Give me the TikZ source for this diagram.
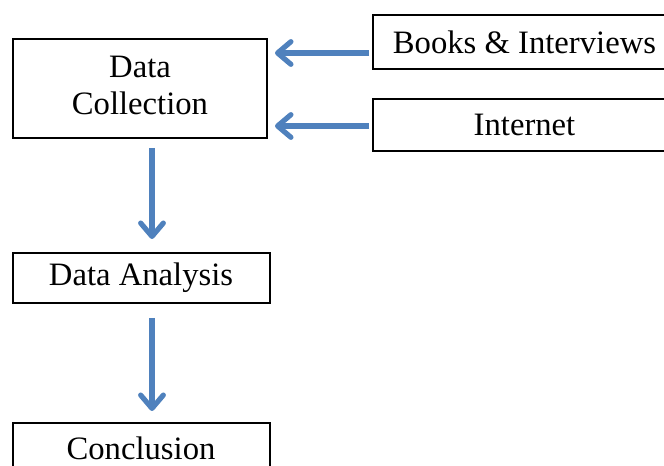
\documentclass[tikz,border=0pt]{standalone}
\usepackage{fontspec}
\setmainfont{Liberation Serif}
\usetikzlibrary{arrows.meta,calc}
\definecolor{flowblue}{RGB}{79,129,189}
\tikzset{
  box/.style={draw=black, line width=1.5pt, rectangle, inner sep=0pt,
    font=\fontsize{24.5}{28}\selectfont, align=center},
  flow/.style={draw=flowblue, line width=3.9pt,
    -{Straight Barb[length=10pt,width=17pt,round]}}
}
\begin{document}
\begin{tikzpicture}[x=0.75pt,y=-0.75pt]
  \useasboundingbox (0,0) rectangle (664,466);
  \clip (0,0) rectangle (664,466);
  % stages of the process
  \node[box, minimum width=254*0.75pt, minimum height=99*0.75pt] (dc) at (140,88.5)
    {\raisebox{3.5pt}{\begin{tabular}{@{}c@{}}Data\\Collection\end{tabular}}};
  \node[box, minimum width=303*0.75pt, minimum height=54*0.75pt] (books) at (524.5,42)
    {Books \& Interviews};
  \node[box, minimum width=303*0.75pt, minimum height=52*0.75pt] (inet) at (524.5,125)
    {Internet};
  \node[box, minimum width=257*0.75pt, minimum height=50*0.75pt] (da) at (141,278)
    {Data Analysis};
  \node[box, minimum width=257*0.75pt, minimum height=50*0.75pt] (concl) at (141,448)
    {Conclusion};
  % sources feeding the collection step
  \draw[flow] ($(books.west)+(-3,11)$) -- ($(dc.east)+(7,-35.5)$);
  \draw[flow] ($(inet.west)+(-3,1)$) -- ($(dc.east)+(7,37.5)$);
  % downward flow
  \draw[flow] ($(dc.south)+(12,9)$) -- ($(da.north)+(11,-13)$);
  \draw[flow] ($(da.south)+(11,14)$) -- ($(concl.north)+(11,-11)$);
\end{tikzpicture}
\end{document}
